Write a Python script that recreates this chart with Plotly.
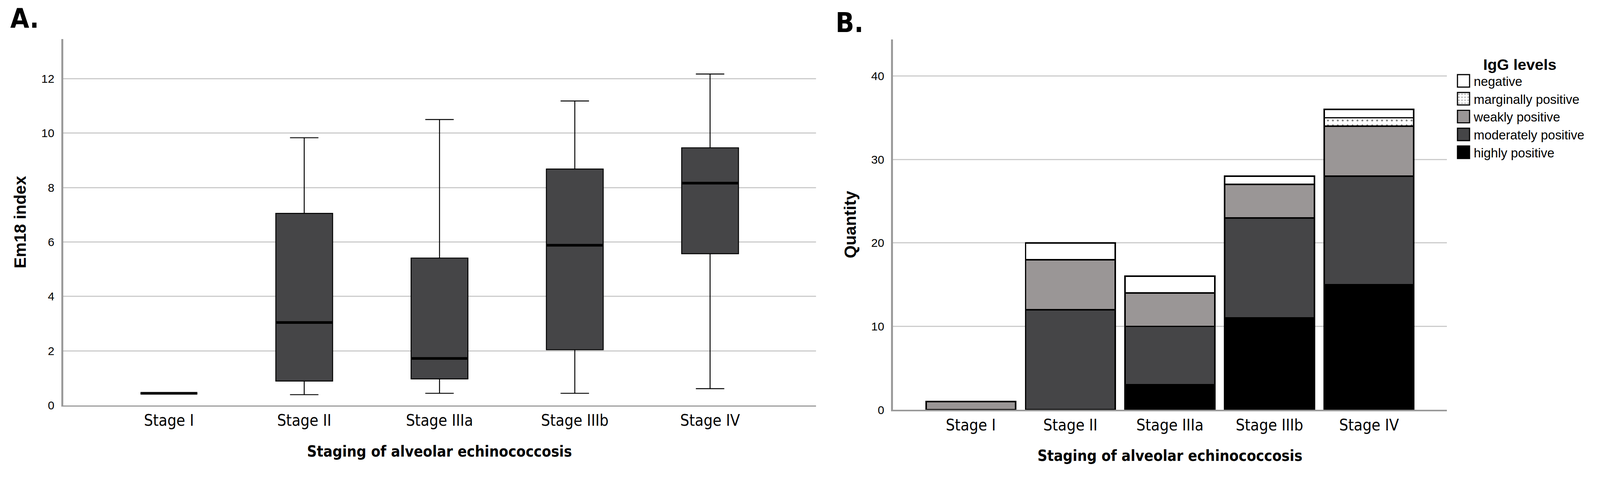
import plotly.graph_objects as go

W, H = 4232, 1257

# ---------------- data ----------------
stages = ["Stage I", "Stage II", "Stage IIIa", "Stage IIIb", "Stage IV"]

# Panel A: Em18 index box plot statistics
em18_lower = [0.44, 0.39, 0.44, 0.44, 0.61]
em18_q1 = [0.44, 0.89, 0.97, 2.04, 5.57]
em18_median = [0.44, 3.04, 1.72, 5.88, 8.16]
em18_q3 = [0.44, 7.05, 5.41, 8.68, 9.46]
em18_upper = [0.44, 9.83, 10.50, 11.18, 12.17]

# Panel B: IgG levels counts (stacked bars)
igg_highly = [0, 0, 3, 11, 15]
igg_moderately = [0, 12, 7, 12, 13]
igg_weakly = [1, 6, 4, 4, 6]
igg_marginally = [0, 0, 0, 0, 1]
igg_negative = [0, 2, 2, 1, 1]

y_ticks_a = [0, 2, 4, 6, 8, 10, 12]
y_ticks_b = [0, 10, 20, 30, 40]

# ---------------- styles ----------------
NARROW = "Liberation Sans Narrow, DejaVu Sans Condensed, Liberation Sans, sans-serif"
REG = "Liberation Sans, Arial, sans-serif"
DARK = "#454547"
WEAK = "#9a9696"
GRID = "#cccccc"
AXIS = "#9a9a9a"


def px_x(v):
    return v / W


def px_y(v):
    return 1 - v / H


fig = go.Figure()

# Box plot (A)
fig.add_trace(go.Box(
    x=stages, q1=em18_q1, median=em18_median, q3=em18_q3,
    lowerfence=em18_lower, upperfence=em18_upper,
    fillcolor=DARK, line=dict(color="black", width=2.5),
    whiskerwidth=0.5, boxpoints=False, showlegend=False,
    hoverinfo="skip", xaxis="x", yaxis="y",
))
# thicker median lines
fig.add_trace(go.Box(
    x=stages, q1=em18_median, median=em18_median, q3=em18_median,
    lowerfence=em18_median, upperfence=em18_median,
    fillcolor="rgba(0,0,0,0)", line=dict(color="black", width=7),
    whiskerwidth=0.5, boxpoints=False, showlegend=False,
    hoverinfo="skip", xaxis="x", yaxis="y",
))

# Stacked bars (B)
bar_series = [
    ("highly positive", igg_highly, "#000000", None),
    ("moderately positive", igg_moderately, DARK, None),
    ("weakly positive", igg_weakly, WEAK, None),
    ("marginally positive", igg_marginally, "#ffffff",
     dict(shape=".", fgcolor="black", bgcolor="white", size=13, solidity=0.12)),
    ("negative", igg_negative, "#ffffff", None),
]
for name, vals, color, pattern in bar_series:
    marker = dict(color=color, line=dict(color="black", width=4))
    if pattern:
        marker["pattern"] = pattern
    fig.add_trace(go.Bar(
        x=stages, y=vals, name=name, marker=marker,
        xaxis="x2", yaxis="y2", hoverinfo="skip",
    ))

# ---------------- layout ----------------
a_left, a_right, a_bottom, a_top = 167, 2158, 1072, 103
b_left, b_right, b_bottom, b_top = 2362, 3827, 1084, 104

common_x = dict(
    type="category", showline=True, linecolor=AXIS, linewidth=4,
    ticks="", showgrid=False, zeroline=False,
    tickfont=dict(family=NARROW, size=42, color="black"),
    title=dict(text="Staging of alveolar echinococcosis",
               font=dict(family=NARROW, size=40, color="black", weight="bold"),
               standoff=45),
    automargin=False, range=[-0.782, 4.782],
)
common_y = dict(
    showline=True, linecolor=AXIS, linewidth=5, ticks="",
    showgrid=True, gridcolor=GRID, gridwidth=3, zeroline=False,
    tickfont=dict(family=REG, size=31, color="black"),
    ticklabelstandoff=12, automargin=False,
)

fig.update_layout(
    width=W, height=H,
    margin=dict(l=0, r=0, t=0, b=0),
    paper_bgcolor="white", plot_bgcolor="white",
    boxmode="overlay", boxgap=0.4,
    barmode="stack", bargap=0.1,
    xaxis=dict(common_x, domain=[px_x(a_left), px_x(a_right)], anchor="y"),
    yaxis=dict(common_y, domain=[px_y(a_bottom), px_y(a_top)], anchor="x",
               range=[0, 13.46], tickvals=y_ticks_a,
               title=dict(text="Em18 index",
                          font=dict(family=REG, size=44, color="black", weight="bold"),
                          standoff=28)),
    xaxis2=dict(common_x, domain=[px_x(b_left), px_x(b_right)], anchor="y2"),
    yaxis2=dict(common_y, domain=[px_y(b_bottom), px_y(b_top)], anchor="x2",
                range=[0, 44.4], tickvals=y_ticks_b,
                title=dict(text="Quantity",
                           font=dict(family=REG, size=44, color="black", weight="bold"),
                           standoff=28)),
    legend=dict(
        x=px_x(3851), y=px_y(132), xanchor="left", yanchor="top",
        traceorder="reversed", bgcolor="rgba(0,0,0,0)",
        font=dict(family=REG, size=34, color="black"),
        title=dict(text="IgG levels", side="top center",
                   font=dict(family=REG, size=41, color="black", weight="bold")),
        itemclick=False, itemdoubleclick=False,
    ),
    annotations=[
        dict(text="<b>A.</b>", x=px_x(25), y=px_y(48), xref="paper", yref="paper",
             xanchor="left", yanchor="middle", showarrow=False,
             font=dict(family=NARROW, size=72, color="black")),
        dict(text="<b>B.</b>", x=px_x(2208), y=px_y(60), xref="paper", yref="paper",
             xanchor="left", yanchor="middle", showarrow=False,
             font=dict(family=NARROW, size=72, color="black")),
    ],
)

post = """
document.documentElement.style.margin = '0';
document.documentElement.style.overflow = 'hidden';
document.body.style.margin = '0';
document.body.style.overflow = 'hidden';
var gd = document.getElementById('{plot_id}');
gd.querySelectorAll('.legend .legendpoints path').forEach(function(p){
  p.setAttribute('d','M16,16.5H-16V-16.5H16Z');
  p.style.strokeWidth = '3px';
  p.style.stroke = 'black';
});
gd.querySelectorAll('.legend .legendtext').forEach(function(t){
  t.setAttribute('x', '47');
});
var s = Math.min(window.innerWidth / %d, window.innerHeight / %d);
if (s > 0 && Math.abs(s - 1) > 0.002) {
  gd.style.transformOrigin = '0 0';
  gd.style.transform = 'scale(' + s + ')';
}
""" % (W, H)

fig.write_html("out.html", post_script=post, config={"displayModeBar": False})
